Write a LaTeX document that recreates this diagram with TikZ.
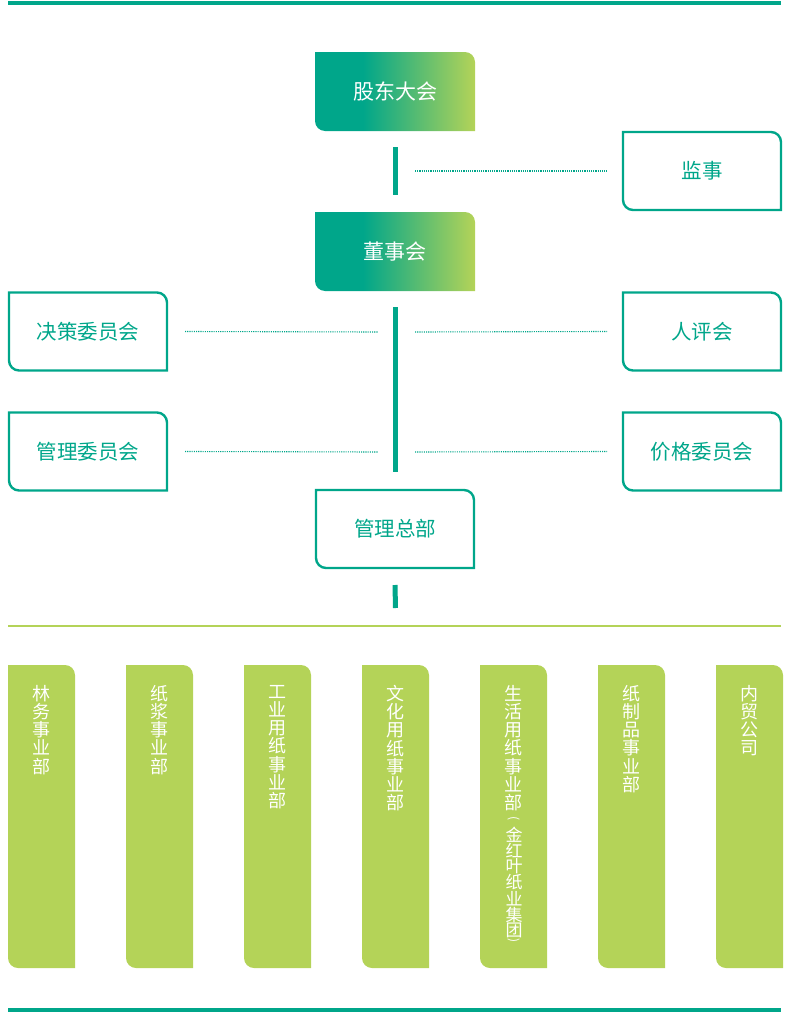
\documentclass[tikz,border=0pt]{standalone}
\usepackage{fontspec}
\newfontfamily\cjk{Noto Sans CJK SC}
\definecolor{teal}{RGB}{0,166,138}
\definecolor{lgreen}{RGB}{180,211,88}
\pgfdeclarehorizontalshading{boxgrad}{100bp}{color(0bp)=(teal); color(25bp)=(teal); color(40bp)=(teal); color(75bp)=(lgreen); color(100bp)=(lgreen)}
\newcommand{\cutpath}[2]{(#1.north west) -- ([xshift=-#2]#1.north east) .. controls ([xshift=-0.45*#2]#1.north east) and ([yshift=-0.45*#2]#1.north east) .. ([yshift=-#2]#1.north east) -- (#1.south east) -- ([xshift=#2]#1.south west) .. controls ([xshift=0.45*#2]#1.south west) and ([yshift=0.45*#2]#1.south west) .. ([yshift=#2]#1.south west) -- cycle}
\tikzset{
  boxnode/.style={inner sep=0pt, outer sep=0pt, minimum width=158pt, minimum height=78pt, font=\cjk\fontsize{20.5}{24}\selectfont},
  gradnode/.style={boxnode, minimum width=160pt, minimum height=79pt, text=white, font=\cjk\fontsize{21}{24}\selectfont},
  outnode/.style={boxnode, text=teal},
  barnode/.style={inner sep=0pt, outer sep=0pt, minimum width=67pt, minimum height=303pt},
  bartext/.style={inner sep=0pt, align=center, text=white, font=\cjk\fontsize{18}{18.2}\selectfont, anchor=north},
  subtext/.style={bartext, font=\cjk\fontsize{17}{14.8}\selectfont},
  parentext/.style={inner sep=0pt, text=white, font=\cjk\fontsize{12}{12}\selectfont, anchor=center, rotate=-90},
  outline/.style={draw=teal, line width=2.4pt},
  vbar/.style={draw=teal, line width=5pt},
  dotline/.style={draw=teal, line width=1.1pt, dash pattern=on 1.1pt off 1.1pt},
  rule/.style={draw=teal, line width=4pt},
  greenrule/.style={draw=lgreen, line width=2pt}
}
\begin{document}
\begin{tikzpicture}[x=1pt,y=-1pt]
\useasboundingbox (0,0) rectangle (789,1012);
% rules
\coordinate (t1) at (8,3); \coordinate (t2) at (781,3);
\draw[rule] (t1) -- (t2);
\coordinate (b1) at (8,1010); \coordinate (b2) at (781,1010);
\draw[rule] (b1) -- (b2);
\coordinate (g1) at (8,626); \coordinate (g2) at (781,626);
\draw[greenrule] (g1) -- (g2);
\coordinate (gm) at (395.5,626);
% gradient boxes
\node[gradnode] (gd) at (395,91.5) {};
\shade[shading=boxgrad] \cutpath{gd}{10pt};
\node[gradnode] at (gd) {股东大会};
\node[gradnode] (dsh) at (395,251.5) {};
\shade[shading=boxgrad] \cutpath{dsh}{10pt};
\node[gradnode] at (dsh) {董事会};
% outline boxes
\node[outnode] (js) at (702,171) {监事};
\node[outnode] (jc) at (88,331.5) {决策委员会};
\node[outnode] (rp) at (702,331.5) {人评会};
\node[outnode] (gl) at (88,451.5) {管理委员会};
\node[outnode] (jg) at (702,451.5) {价格委员会};
\node[outnode] (zb) at (395,529) {管理总部};
\foreach \n in {js,jc,rp,gl,jg,zb} {\draw[outline] \cutpath{\n}{10pt};}
% vertical bars
\draw[vbar] ([yshift=-16pt]gd.south) -- ([yshift=17pt]dsh.north);
\draw[vbar] ([yshift=-16pt]dsh.south) -- ([yshift=18pt]zb.north);
\draw[vbar] ([yshift=-17pt]zb.south) -- ([yshift=18pt]gm);
% dotted connectors
\coordinate (rj) at (415,171);
\coordinate (rr) at (415,332);
\coordinate (rg) at (415,452);
\coordinate (lr) at (378,332);
\coordinate (lg) at (378,452);
\draw[dotline] (rj) -- ([xshift=-16pt]js.west);
\draw[dotline] (rr) -- ([xshift=-16pt]rp.west);
\draw[dotline] (rg) -- ([xshift=-16pt]jg.west);
\draw[dotline] ([xshift=18pt]jc.east) -- (lr);
\draw[dotline] ([xshift=18pt]gl.east) -- (lg);
% bottom bars
\foreach \i/\x/\t in {1/41.5/{林\\务\\事\\业\\部},
                      2/159.5/{纸\\浆\\事\\业\\部},
                      3/277.5/{工\\业\\用\\纸\\事\\业\\部},
                      4/395.5/{文\\化\\用\\纸\\事\\业\\部},
                      5/513.5/{生\\活\\用\\纸\\事\\业\\部},
                      6/631.5/{纸\\制\\品\\事\\业\\部},
                      7/749.5/{内\\贸\\公\\司}} {
  \node[barnode] (bar\i) at (\x,816.5) {};
  \fill[lgreen] \cutpath{bar\i}{10pt};
  \node[bartext] (bt\i) at ([yshift=-20pt]bar\i.north) {\t};
}
\node[parentext] (pl) at (513.5,819) {(};
\node[subtext] (bt5b) at (514,826.5) {金\\红\\叶\\纸\\业\\集\\团};
\node[parentext] (pr) at (513.5,941) {)};
\end{tikzpicture}
\end{document}
